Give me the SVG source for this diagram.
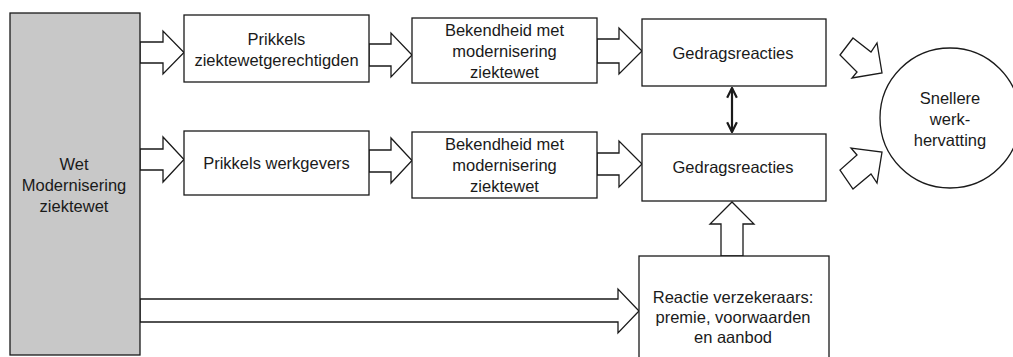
<svg xmlns="http://www.w3.org/2000/svg" width="1013" height="357" viewBox="0 0 1013 357">
<defs>
<style>
.box{fill:#ffffff;stroke:#1a1a1a;stroke-width:1.3}
.src{fill:#c8c8c8;stroke:#1a1a1a;stroke-width:1.3}
.blk{fill:#ffffff;stroke:#1a1a1a;stroke-width:1.3;stroke-linejoin:miter}
.t{font-family:"Liberation Sans",Arial,sans-serif;font-size:16.5px;fill:#1a1a1a;text-anchor:middle}
.dbl{stroke:#1a1a1a;stroke-width:2.2;fill:none}
</style>
<marker id="vh" viewBox="0 0 10 10" refX="9" refY="5" markerWidth="5.5" markerHeight="5.5" orient="auto-start-reverse" markerUnits="strokeWidth">
<path d="M1,1 L9,5 L1,9" fill="none" stroke="#1a1a1a" stroke-width="1.8"/>
</marker>
</defs>
<rect width="1013" height="357" fill="#ffffff"/>

<g id="connectors">
<polygon class="blk" points="140,42 163,42 163,31 184,52.5 163,74 163,63 140,63"/>
<polygon class="blk" points="140,149 163,149 163,137 184,159.5 163,182 163,170 140,170"/>
<polygon class="blk" points="369,44 391,44 391,33 412,55 391,77 391,66 369,66"/>
<polygon class="blk" points="369,150 391,150 391,138 412,160.5 391,183 391,172 369,172"/>
<polygon class="blk" points="597,39 619,39 619,28 642,51 619,74 619,63 597,63"/>
<polygon class="blk" points="597,153 619,153 619,141 642,164 619,187 619,175 597,175"/>
<polygon class="blk" points="140,299 618,299 618,289 639,311 618,333 618,322 140,322"/>
<polygon class="blk" points="721,256 721,224 710,224 732,202 754,224 743,224 743,256"/>
<polygon class="blk" points="853,38 871,52 877,43 882,73 852,78 857,72 840,55"/>
<polygon class="blk" points="853,189 871,174 877,183 882,152 851,148 857,155 840,170"/>
<line class="dbl" x1="732" y1="88" x2="732" y2="132" marker-start="url(#vh)" marker-end="url(#vh)"/>
</g>

<g id="wet">
<rect class="src" x="10" y="13" width="130" height="342"/>
<text class="t" x="74" y="170">Wet</text>
<text class="t" x="74" y="191">Modernisering</text>
<text class="t" x="74" y="212">ziektewet</text>
</g>

<g id="prikkels-zw">
<rect class="box" x="184" y="15" width="185" height="67"/>
<text class="t" x="276.5" y="45">Prikkels</text>
<text class="t" x="276.5" y="66">ziektewetgerechtigden</text>
</g>

<g id="prikkels-wg">
<rect class="box" x="184" y="131" width="185" height="64"/>
<text class="t" x="276.5" y="169">Prikkels werkgevers</text>
</g>

<g id="bekend-1">
<rect class="box" x="412" y="18" width="185" height="65"/>
<text class="t" x="504.5" y="36">Bekendheid met</text>
<text class="t" x="504.5" y="57">modernisering</text>
<text class="t" x="504.5" y="78">ziektewet</text>
</g>

<g id="bekend-2">
<rect class="box" x="412" y="132" width="185" height="66"/>
<text class="t" x="504.5" y="150">Bekendheid met</text>
<text class="t" x="504.5" y="171">modernisering</text>
<text class="t" x="504.5" y="192">ziektewet</text>
</g>

<g id="gedrag-1">
<rect class="box" x="642" y="19" width="184" height="67"/>
<text class="t" x="733" y="59">Gedragsreacties</text>
</g>

<g id="gedrag-2">
<rect class="box" x="642" y="134" width="184" height="67"/>
<text class="t" x="733" y="173">Gedragsreacties</text>
</g>

<g id="verzekeraars">
<rect class="box" x="639" y="256" width="190" height="110"/>
<text class="t" x="733" y="303">Reactie verzekeraars:</text>
<text class="t" x="733" y="323">premie, voorwaarden</text>
<text class="t" x="733" y="343">en aanbod</text>
</g>

<g id="snellere">
<circle class="box" cx="950" cy="118" r="70"/>
<text class="t" x="950" y="104">Snellere</text>
<text class="t" x="950" y="125">werk-</text>
<text class="t" x="950" y="146">hervatting</text>
</g>
</svg>
